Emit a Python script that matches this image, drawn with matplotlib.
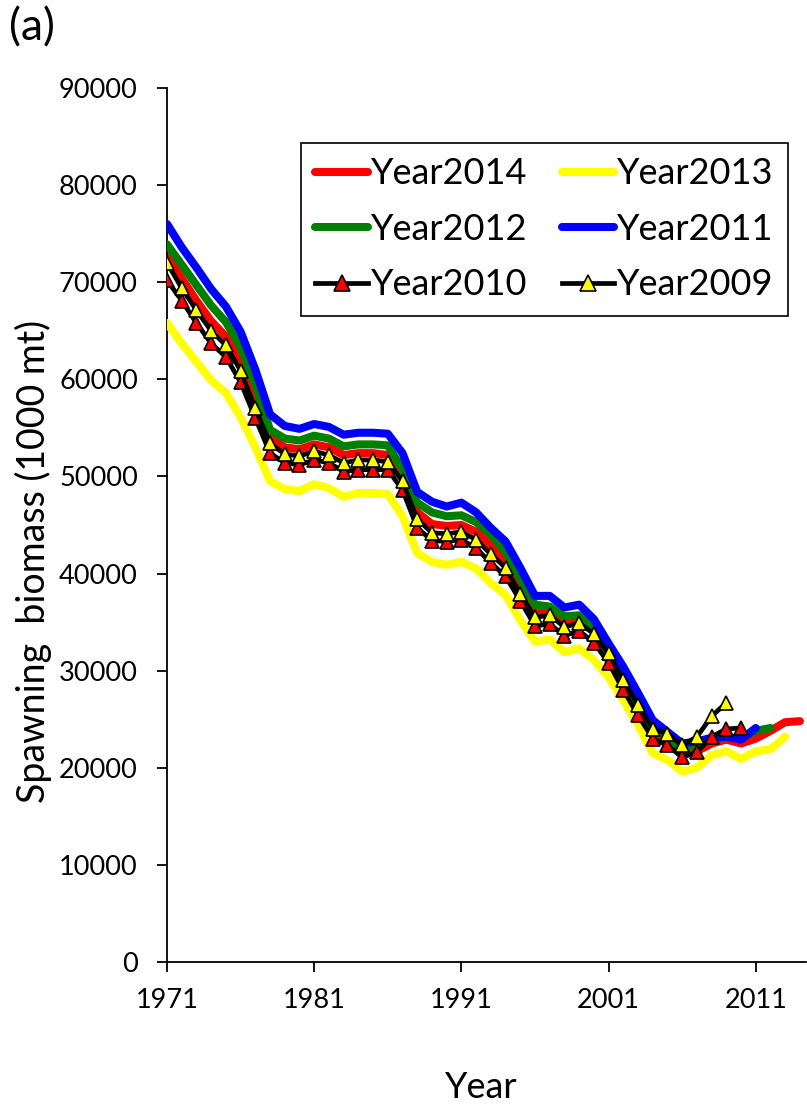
import matplotlib
matplotlib.use("Agg")
import matplotlib.pyplot as plt
import numpy as np

plt.rcParams['font.family'] = ['Lato', 'DejaVu Sans']

# ---------------- data (1000 mt) ----------------
years_2014 = list(range(1971, 2015))
year2014 = [72700, 70400, 68100, 66000, 64400, 61800, 58000, 53900, 53000, 52800,
            53300, 53000, 52200, 52400, 52400, 52200, 50000, 46300, 45100, 44900,
            45000, 44300, 42900, 41400, 38600, 36000, 36000, 35000, 35300, 34200,
            31400, 28700, 26000, 23500, 22600, 21300, 21700, 22500, 22900, 22500,
            23000, 23800, 24700, 24800]

years_2013 = list(range(1971, 2014))
year2013 = [65800, 63700, 61800, 59900, 58600, 56100, 53000, 49500, 48700, 48500,
            49200, 48800, 47900, 48300, 48300, 48200, 45900, 42100, 41200, 40900,
            41200, 40500, 39000, 37800, 35200, 33000, 33200, 31900, 32300, 31100,
            29300, 27000, 24400, 21500, 20800, 19600, 20000, 21300, 21700, 20900,
            21700, 21900, 23200]

years_2012 = list(range(1971, 2013))
year2012 = [73900, 71800, 69700, 67600, 65900, 63300, 59400, 54800, 53900, 53700,
            54200, 53900, 53100, 53300, 53300, 53200, 50700, 47300, 46300, 45900,
            46000, 45300, 44000, 42200, 39500, 36800, 36600, 35600, 35700, 34500,
            31800, 29200, 26500, 24000, 23000, 22000, 22300, 22900, 23100, 23000,
            23800, 24100]

years_2011 = list(range(1971, 2012))
year2011 = [76000, 73600, 71500, 69300, 67500, 64900, 61000, 56400, 55200, 54900,
            55400, 55100, 54300, 54500, 54500, 54400, 52400, 48400, 47400, 46900,
            47300, 46300, 44700, 43300, 40600, 37700, 37700, 36500, 36800, 35300,
            32800, 30400, 27700, 24900, 23700, 22500, 22700, 23100, 23200, 22900,
            24100]

years_2010 = list(range(1971, 2011))
year2010 = [70200, 68100, 65800, 63700, 62300, 59700, 56000, 52400, 51400, 51200,
            51700, 51400, 50500, 50700, 50700, 50700, 48600, 44700, 43400, 43300,
            43500, 42600, 41100, 39700, 37200, 34600, 34800, 33600, 34100, 32900,
            30800, 28000, 25400, 23000, 22300, 21100, 21600, 23200, 24000, 24100]

years_2009 = list(range(1971, 2010))
year2009 = [72000, 69400, 67100, 65000, 63500, 60900, 57000, 53400, 52300, 52100,
            52600, 52200, 51400, 51700, 51700, 51500, 49500, 45600, 44200, 44100,
            44300, 43500, 42000, 40600, 37900, 35500, 35700, 34500, 34900, 33800,
            31800, 29000, 26500, 24000, 23500, 22300, 23200, 25300, 26700]

x_ticks = [1971, 1981, 1991, 2001, 2011]
y_ticks = [0, 10000, 20000, 30000, 40000, 50000, 60000, 70000, 80000, 90000]

# ---------------- figure ----------------
W, H = 807, 1112
fig = plt.figure(figsize=(W / 100, H / 100), dpi=100)
ax_l, ax_r, ax_t, ax_b = 167, 806, 88, 962
ax = fig.add_axes([ax_l / W, 1 - ax_b / H, (ax_r - ax_l) / W, (ax_b - ax_t) / H])

lw_c = 5.8
h14, = ax.plot(years_2014, year2014, color='#FF0000', lw=lw_c, solid_capstyle='round',
               solid_joinstyle='round', label='Year2014', zorder=2)
h13, = ax.plot(years_2013, year2013, color='#FFFF00', lw=lw_c, solid_capstyle='round',
               solid_joinstyle='round', label='Year2013', zorder=3)
h12, = ax.plot(years_2012, year2012, color='#008000', lw=lw_c, solid_capstyle='round',
               solid_joinstyle='round', label='Year2012', zorder=4)
h11, = ax.plot(years_2011, year2011, color='#0000FF', lw=lw_c, solid_capstyle='round',
               solid_joinstyle='round', label='Year2011', zorder=5)
h10, = ax.plot(years_2010, year2010, color='black', lw=3.4, marker='^', ms=9.5,
               mfc='#FF0000', mec='black', mew=1.2, label='Year2010', zorder=6)
h09, = ax.plot(years_2009, year2009, color='black', lw=3.4, marker='^', ms=9.5,
               mfc='#FFFF00', mec='black', mew=1.2, label='Year2009', zorder=7)

ax.set_xlim(1971, 1971 + (ax_r - ax_l) / 14.72)
ax.set_ylim(0, 90000)
ax.set_xticks(x_ticks)
ax.set_yticks(y_ticks)
ax.set_xticklabels([str(v) for v in x_ticks])
ax.set_yticklabels([str(v) for v in y_ticks])

for s in ['top', 'right']:
    ax.spines[s].set_visible(False)
for s in ['left', 'bottom']:
    ax.spines[s].set_linewidth(1.3)
    ax.spines[s].set_color('black')

ax.tick_params(axis='y', direction='out', length=7, width=1.3, pad=14, labelsize=19.5)
ax.tick_params(axis='x', direction='out', length=7, width=1.3, pad=12, labelsize=19.5)

ax.set_ylabel('Spawning  biomass (1000 mt)', fontsize=27, va='center')
ax.yaxis.set_label_coords((33 - ax_l) / (ax_r - ax_l), (ax_b - 561) / (ax_b - ax_t))
ax.set_xlabel('Year', fontsize=26, va='center')
ax.xaxis.set_label_coords((481 - ax_l) / (ax_r - ax_l), (ax_b - 1088) / (ax_b - ax_t))

fig.text(9 / W, 1 - 28 / H, '(a)', fontsize=32, ha='left', va='center')

handles = [h14, h12, h10, h13, h11, h09]
leg = ax.legend(handles=handles, labels=[h.get_label() for h in handles],
                ncol=2, loc='upper left', bbox_to_anchor=(301 / W, 1 - 143 / H),
                bbox_transform=fig.transFigure, fontsize=26, frameon=True,
                fancybox=False, edgecolor='black', framealpha=1,
                handlelength=1.45, handletextpad=0.08, columnspacing=0.95,
                labelspacing=0.62, borderpad=0.4, borderaxespad=0.0,
                markerscale=1.2)
leg.get_frame().set_linewidth(1.2)

fig.savefig('out.png', dpi=100)
